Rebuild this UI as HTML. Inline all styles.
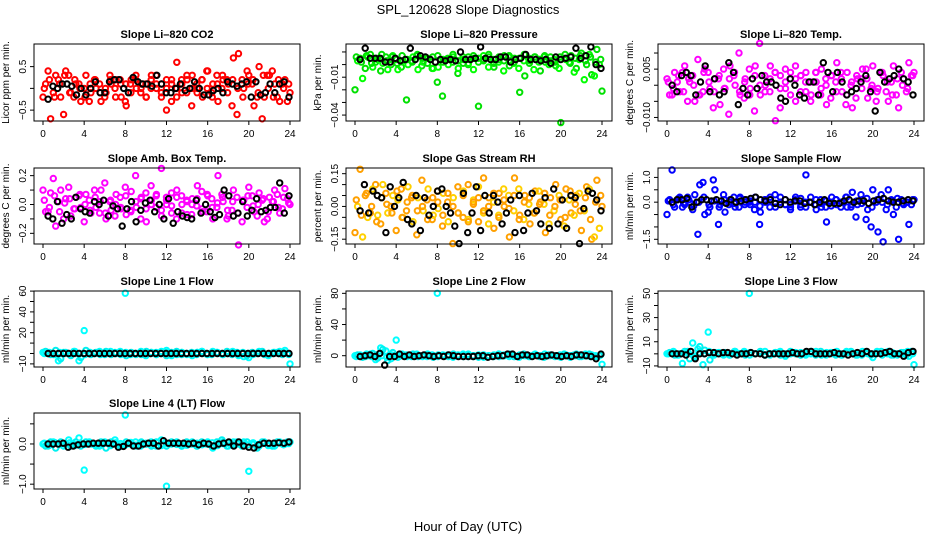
<!DOCTYPE html>
<html><head><meta charset="utf-8"><style>
html,body{margin:0;padding:0;background:#fff}
svg{display:block;font-family:"Liberation Sans",Arial,sans-serif}
</style></head><body>
<svg id="chart" width="936" height="540" viewBox="0 0 936 540" xmlns="http://www.w3.org/2000/svg">
<rect width="936" height="540" fill="#fff"/>
<text x="468" y="14" text-anchor="middle" font-size="13">SPL_120628  Slope Diagnostics</text>
<text x="468" y="531" text-anchor="middle" font-size="13">Hour of Day (UTC)</text>
</svg>
<script>
const xTicks=[0,4,8,12,16,20,24];
const co2A=[-0.2,0.4,-0.1,0.2,-0.6,0.3,-0.2,0.1,0.0,-0.3,0.2,0.1,-0.2,0.3,0.0,0.2,-0.3,0.1,0.2,-0.1,0.1,0.0,0.3,-0.2,-0.5,0.1,0.6,-0.1,0.2,0.3,0.0,-0.2,0.4,0.1,-0.3,0.2,0.1,0.7,0.8,0.0,0.3,-0.4,0.5,-0.2,0.3,0.1,-0.3,0.2,-0.1];
const co2B=[0.1,-0.7,0.3,-0.2,0.4,-0.1,0.1,-0.3,0.3,-0.1,0.0,-0.3,-0.1,0.1,0.2,-0.2,-0.4,0.2,0.0,0.1,-0.2,0.3,0.0,0.1,0.2,-0.3,0.0,0.2,-0.1,-0.4,0.1,0.2,0.4,-0.1,0.3,0.0,0.2,-0.4,-0.6,0.2,0.4,0.1,-0.2,-0.7,0.3,0.4,-0.2,0.1,-0.3];
const co2C=[0.0,0.2,-0.2,0.1,0.3,-0.1,0.2,0.0,-0.2,0.1,0.2,-0.1,0.0,0.2,-0.2,0.1,0.1,-0.1,0.3,0.0,-0.2,0.2,0.1,-0.1,0.0,0.2,-0.2,0.1,0.3,0.0,-0.1,0.2,0.0,-0.2,0.1,0.3,-0.1,0.2,0.0,-0.2,0.1,0.2,-0.1,0.3,0.0,-0.2,0.2,0.0,0.1];
const co2K=[-0.25,0.05,0.0,0.1,0.1,0.05,-0.15,0.0,-0.15,0.0,0.15,-0.1,-0.1,0.15,0.2,0.2,0.0,-0.1,0.25,0.15,0.1,0.1,0.05,0.3,0.1,-0.1,-0.1,0.0,0.1,-0.05,0.0,0.15,0.0,-0.15,-0.15,-0.05,0.0,-0.1,0.15,0.1,0.05,0.1,0.15,-0.2,0.15,-0.15,-0.1,0.1,-0.1,0.1,0.15,-0.2];
const presA=[-0.02,0.005,-0.003,0.008,0.002,-0.005,0.006,0.0,0.004,-0.002,-0.028,0.003,0.007,-0.001,0.005,-0.003,-0.014,-0.025,0.004,0.002,-0.007,0.006,0.0,0.005,-0.033,0.003,0.006,-0.002,0.004,0.007,-0.001,0.005,-0.022,-0.009,0.003,0.006,-0.005,0.002,0.006,-0.001,-0.046,0.004,0.007,-0.003,0.009,0.0,-0.008,0.012,-0.021];
const presB=[0.003,-0.011,0.006,-0.002,0.004,0.001,-0.004,0.007,-0.004,0.003,0.0,0.006,-0.004,0.002,0.005,-0.003,-0.002,0.004,0.0,0.006,-0.003,0.004,0.001,-0.004,0.005,0.007,-0.002,0.004,0.002,-0.005,0.006,0.001,-0.003,0.003,0.005,-0.004,0.002,0.006,0.0,0.004,-0.003,0.005,0.002,-0.006,0.004,-0.012,0.008,-0.009,0.0];
const presC=[0.006,0.002,0.007,0.001,0.005,0.008,0.003,0.006,0.001,0.007,0.004,0.002,0.008,0.005,0.001,0.006,0.007,0.002,0.005,0.008,0.003,0.001,0.006,0.007,0.002,0.004,0.008,0.001,0.006,0.003,0.007,0.002,0.005,0.008,0.001,0.006,0.004,0.007,0.003,0.002,0.006,0.008,0.001,0.005,0.007,0.003,0.006,0.002,0.004];
const presK=[0.004,0.013,0.005,0.005,0.005,0.002,0.002,0.005,0.003,0.004,0.013,0.004,0.007,0.006,0.004,0.002,0.004,0.003,0.004,0.003,0.010,0.004,0.004,0.005,0.014,0.005,0.004,0.004,0.006,0.006,0.002,0.004,0.005,0.008,0.004,0.004,0.003,0.004,0.001,0.006,0.004,0.005,0.006,0.013,0.005,0.007,0.014,0.0,-0.003];
const tempA=[0.002,-0.003,0.001,0.004,-0.005,0.003,0.008,-0.002,0.004,-0.007,0.002,0.005,-0.009,0.003,0.010,-0.004,0.005,-0.008,0.013,0.003,-0.002,0.004,-0.007,0.005,0.002,-0.005,0.003,0.004,-0.003,0.001,0.005,-0.006,0.003,0.007,-0.002,0.004,-0.007,0.002,0.005,-0.004,0.006,-0.001,0.003,-0.005,0.006,-0.007,0.002,0.007,0.004];
const tempB=[-0.003,0.004,-0.002,0.006,0.001,-0.005,-0.003,0.005,-0.001,0.002,-0.006,-0.001,0.006,0.000,-0.003,0.002,-0.001,0.006,-0.003,0.000,0.006,-0.011,0.003,-0.001,0.004,0.006,-0.002,0.001,-0.005,0.004,-0.003,0.002,-0.004,0.001,0.004,-0.006,0.000,-0.004,0.002,0.005,-0.001,-0.005,0.004,-0.002,0.001,-0.003,0.004,-0.002,0.003];
const tempC=[0.001,-0.001,0.003,-0.002,0.002,0.000,-0.003,0.004,0.001,-0.002,0.003,-0.001,0.002,0.004,-0.002,0.001,-0.003,0.003,0.000,-0.002,0.002,0.004,-0.001,0.001,-0.003,0.002,0.003,-0.002,0.001,0.004,-0.001,0.000,0.003,-0.002,0.002,-0.003,0.001,0.003,-0.001,0.002,0.000,-0.002,0.004,0.001,-0.003,0.002,0.000,-0.001,0.003];
const tempK=[0.000,-0.002,0.003,0.004,0.003,-0.003,0.001,0.006,-0.002,0.002,-0.003,-0.002,0.007,0.004,-0.006,-0.001,-0.003,0.002,-0.001,0.003,0.001,0.001,0.000,-0.004,-0.005,0.002,0.000,-0.003,-0.004,0.001,0.001,-0.003,0.007,0.004,-0.002,0.004,0.001,-0.003,-0.002,-0.001,0.001,0.003,-0.002,-0.008,0.004,0.001,0.002,0.003,0.005,0.002,0.001,-0.003];
const ambA=[0.1,-0.05,0.18,0.02,-0.1,0.12,-0.03,0.06,-0.12,0.03,0.1,-0.06,0.15,0.02,-0.08,0.05,0.12,-0.04,0.2,-0.1,0.08,0.13,-0.02,0.25,0.05,-0.06,0.1,0.0,-0.07,0.04,0.13,-0.05,0.06,-0.1,0.2,0.02,-0.08,0.1,-0.28,0.03,0.12,-0.05,0.08,-0.12,0.05,0.1,-0.06,0.11,0.0];
const ambB=[-0.05,0.08,-0.15,0.1,0.04,-0.08,0.05,-0.02,0.07,-0.06,-0.02,0.1,-0.1,-0.04,0.07,-0.03,-0.07,0.09,-0.02,0.05,-0.12,0.03,0.07,-0.08,0.0,0.08,-0.1,0.06,0.03,-0.07,-0.01,0.09,-0.05,0.04,-0.02,0.07,-0.1,-0.04,0.05,-0.12,-0.02,0.06,-0.08,0.03,-0.1,0.02,0.07,-0.03,0.04];
const ambC=[0.03,-0.02,0.06,-0.05,0.01,0.04,-0.03,0.07,0.0,-0.04,0.05,0.02,-0.06,0.03,0.0,-0.02,0.06,-0.05,0.02,0.04,-0.03,0.0,0.06,-0.04,0.03,-0.01,0.05,-0.06,0.02,0.0,0.04,-0.03,0.07,-0.02,0.01,0.05,-0.04,0.02,-0.06,0.03,0.06,-0.01,0.0,0.04,-0.05,0.02,-0.02,0.05,0.01];
const ambK=[-0.08,-0.1,0.02,-0.13,-0.07,-0.1,0.05,-0.03,-0.05,-0.06,0.02,0.0,0.03,-0.08,-0.01,-0.03,-0.15,-0.03,0.02,-0.12,-0.04,0.01,0.03,-0.05,0.0,-0.1,0.04,-0.13,-0.05,-0.08,-0.09,-0.1,0.03,-0.06,0.0,-0.05,-0.09,-0.07,0.1,0.06,-0.08,-0.06,0.02,-0.08,-0.04,0.04,-0.05,-0.04,-0.02,-0.02,0.15,-0.06,0.06];
const rhA=[-0.12,0.17,0.05,-0.03,0.1,-0.08,0.06,0.0,-0.11,0.08,-0.02,0.04,-0.13,0.12,0.03,-0.06,0.07,-0.09,0.02,-0.17,0.09,-0.05,0.1,0.01,-0.07,0.13,0.04,-0.1,0.06,0.0,-0.14,0.13,-0.04,0.05,-0.08,0.07,0.02,-0.12,0.04,0.1,-0.06,0.08,-0.03,0.05,-0.11,0.09,-0.15,0.12,0.0];
const rhB=[0.0,-0.14,-0.05,0.08,-0.04,0.1,-0.03,0.05,0.03,-0.05,0.09,-0.07,0.04,-0.02,0.08,-0.04,-0.01,0.06,-0.07,0.04,-0.03,0.07,-0.06,0.03,0.09,-0.03,-0.08,0.02,-0.04,0.08,0.05,-0.02,0.08,-0.06,0.01,-0.03,0.07,0.01,-0.08,-0.02,0.05,-0.09,0.03,-0.04,0.06,-0.02,0.08,-0.14,-0.1];
const rhC=[0.03,-0.04,0.06,0.0,-0.07,0.04,0.01,-0.03,0.07,-0.05,0.02,0.05,-0.02,0.0,-0.06,0.04,0.02,-0.04,0.06,0.0,-0.03,0.05,-0.07,0.02,0.04,-0.02,0.0,0.06,-0.05,0.03,-0.01,0.05,-0.06,0.02,0.04,-0.03,0.01,0.06,-0.04,0.0,0.03,-0.05,0.07,0.01,-0.02,0.04,-0.06,0.02,0.05];
const rhK=[-0.02,0.1,-0.03,0.07,0.05,0.04,-0.12,0.09,0.0,0.04,0.11,-0.06,-0.08,0.05,-0.11,0.04,-0.04,0.0,0.07,0.08,0.0,-0.03,-0.09,-0.17,0.06,-0.12,-0.03,0.09,-0.11,0.05,-0.03,0.05,0.02,-0.08,-0.03,0.03,-0.12,0.05,-0.11,-0.03,0.06,-0.02,-0.08,0.04,-0.1,0.08,-0.08,0.03,-0.1,0.05,0.04,-0.17,-0.01,0.07,0.06,0.03,-0.02];
const flowA=[-0.5,1.3,0.1,-0.2,0.2,-0.3,-1.3,0.8,-0.4,0.9,-0.9,0.3,-0.1,0.2,-0.2,0.1,0.0,-0.3,-0.9,0.1,-0.2,0.3,0.0,-0.1,-0.2,0.2,-0.1,1.1,0.0,-0.3,-0.2,-0.8,0.2,-0.1,0.0,-0.2,0.4,-0.1,0.1,-0.3,0.5,-1.2,-1.6,0.5,-0.5,-1.5,-0.1,-0.9,0.1];
const flowB=[0.1,-0.2,0.2,-0.1,0.0,0.3,0.7,-0.5,-0.2,0.5,-0.1,-0.4,0.1,-0.2,0.2,0.0,-0.1,0.2,-0.4,0.0,0.1,-0.2,0.2,-0.1,-0.3,0.1,-0.2,0.0,0.2,-0.1,0.1,-0.2,0.0,0.1,-0.2,0.2,-0.2,-0.6,0.3,-0.7,-1.0,0.0,0.3,-0.3,0.1,-0.2,0.1,0.0,-0.1];
const flowC=[0.05,-0.1,0.15,-0.05,0.1,-0.15,0.0,0.2,-0.1,0.05,-0.2,0.1,0.0,-0.05,0.15,-0.1,0.05,0.0,-0.15,0.1,0.2,-0.05,0.0,0.1,-0.1,0.05,0.15,-0.2,0.0,0.1,-0.05,0.05,-0.15,0.1,0.0,0.2,-0.1,0.05,-0.05,0.15,-0.2,0.1,0.0,-0.1,0.05,0.15,-0.05,0.0,0.1];
const flowK=[0.0,0.1,0.1,0.15,-0.2,0.0,0.1,0.1,0.05,0.1,0.05,-0.05,0.1,0.0,0.05,0.1,0.15,0.2,0.1,0.05,0.1,-0.05,-0.1,0.1,0.0,0.05,0.05,-0.05,0.0,-0.1,0.0,0.1,-0.05,-0.05,-0.05,0.05,0.1,0.0,0.05,0.05,-0.05,0.05,0.1,0.15,0.05,0.0,0.0,0.05,0.1,0.05];
const l1A=[1,0,-1,-7,1,0,2,-7,22,1,0,2,-1,0,1,2,58,-1,0,1,-2,0,1,2,3,0,-1,1,0,-2,1,0,-1,2,0,-1,0,1,-2,-3,-4,0,2,-1,0,1,2,3,-10];
const l1B=[2,-1,3,-5,1,-2,0,-4,3,-1,1,0,2,-1,0,1,-2,1,0,-1,2,1,-1,0,-2,1,2,-1,0,1,-1,2,0,-1,1,0,2,-1,1,0,-2,1,0,2,-1,0,1,-1,0];
const l1C=[0,1,-1,1,0,-1,2,0,-1,1,0,-1,1,2,0,-1,1,0,-1,2,0,1,-1,0,1,-2,0,1,-1,0,1,2,-1,0,1,-1,0,2,-1,1,0,-1,1,0,-2,1,0,1,-1];
const l1K=[0,0,0,0,0,0,0,0,0,0,0,0,0,0,0,0,0,0,0,0,0,0,0,0,0,0,0,0,0,0,0,0,0,0,0,0,0,0,0,0,0,0,0,0,0,0,0,0];
const l2A=[0,1,-1,2,-5,10,6,-4,20,0,1,-1,2,0,-1,1,80,0,1,-1,0,2,-1,0,1,-2,0,1,-1,0,2,-1,1,0,-1,2,0,-1,1,0,-2,1,0,2,-1,0,1,-1,-11];
const l2B=[1,-2,0,3,-3,8,-6,4,-2,1,0,2,-1,0,1,-2,1,0,-1,2,0,-1,1,0,-2,1,0,-1,2,0,1,-1,0,2,-1,1,0,-2,1,0,-1,2,0,1,-1,0,2,-1,0];
const l2C=[-1,0,2,-1,1,0,-2,1,0,2,-1,0,1,-1,2,0,-1,1,0,-2,1,0,2,-1,0,1,-1,0,2,1,-1,0,-2,1,0,1,-1,2,0,-1,1,0,-2,0,1,2,-1,0,1];
const l2K=[-1,0,1,-1,3,-12,-1,-1,2,-1,1,-1,0,1,0,-1,0,-1,1,0,-1,-1,-1,-1,0,0,-2,-1,0,0,2,2,-1,1,1,-1,0,-1,0,1,0,-1,0,-1,1,1,0,-1,-4,2];
const l3A=[0,1,-1,-8,2,9,4,-9,18,0,1,-1,0,1,0,2,50,0,1,-1,0,1,2,-1,0,1,-1,0,2,0,-1,1,0,2,-1,1,0,-1,2,0,-3,1,0,2,-1,0,1,-2,-9];
const l3B=[1,-1,0,2,-4,-3,6,3,-5,1,0,1,-1,2,0,-1,1,0,2,-1,0,1,-1,0,2,0,-1,1,0,-1,2,0,1,-1,0,1,2,-1,0,1,-1,0,2,1,-1,0,1,-1,2];
const l3C=[0,2,-1,1,0,-2,1,0,2,-1,1,0,-1,2,0,1,-1,0,1,2,-1,0,1,-2,0,1,1,-1,0,2,0,-1,1,0,-1,2,1,0,-1,1,0,2,-1,0,1,-1,0,2,0];
const l3K=[0,0,0,-1,2,-4,0,0,1,1,0,1,1,0,-1,0,0,1,0,0,-1,0,0,0,0,0,1,0,0,2,2,0,0,0,0,1,0,0,-1,0,1,0,2,0,0,0,1,2,0,0,-2,1,2];
const l4A=[0,-0.05,0.05,0,-0.05,0.1,0,0.15,-0.65,0.05,0,-0.05,0.05,0,0.1,-0.05,0.72,0,0.05,-0.05,0,0.05,-0.05,0.1,-1.05,0,0.05,-0.05,0,0.05,-0.05,0,0.05,-0.1,0,0.05,-0.05,0.05,0,0.05,-0.68,0,-0.05,0.05,0,-0.05,0.05,0,0.05];
const l4B=[-0.05,0.05,-0.1,0.05,0,-0.05,0.05,-0.05,0.05,0,-0.05,0.05,-0.1,0.05,0,-0.05,0.05,0,-0.05,0.05,0,-0.05,0.05,0,-0.05,0.05,0,-0.05,0.05,0,-0.05,0.05,0,-0.05,0.05,0.1,-0.05,0,0.05,-0.05,0.05,0,-0.1,0.05,0,-0.05,0.05,0,0.05];
const l4C=[0.02,-0.03,0.04,-0.02,0.0,0.03,-0.04,0.02,-0.01,0.04,-0.03,0.0,0.02,-0.04,0.03,0.01,-0.02,0.04,-0.03,0.0,0.02,-0.02,0.04,-0.04,0.01,0.03,-0.01,0.0,-0.03,0.04,0.02,-0.02,0.0,0.03,-0.04,0.01,0.02,-0.03,0.04,0.0,-0.02,0.03,-0.01,0.02,-0.04,0.0,0.03,-0.02,0.01];
const l4K=[0,0,0,0.02,-0.08,-0.05,-0.02,0,0,0.02,0.02,0.02,0.02,0,-0.08,-0.06,0.02,-0.05,-0.05,0,0.02,0.02,-0.05,0.08,0.02,0.02,0.02,0.02,0,0.02,-0.02,0.02,0,-0.05,0,0.02,0.05,-0.05,0.05,-0.05,-0.08,-0.1,-0.02,0.02,0.02,0.02,0.03,0.02,0.05];

const NS='http://www.w3.org/2000/svg';
const svg=document.getElementById('chart');
const cols=[34,346,658], rows=[[44,121],[168,244],[291,367],[413,489]], W=266;
const panels=[
 {key:'co2',title:'Slope Li\u2013820 CO2',yl:'Licor ppm per min.',c:0,r:0,lo:-0.75,hi:1.02,ticks:[0.5,0,-0.5],labels:['0.5','','\u22120.5'],fs:10,col:'#ff0000',col2:'#ff0000',A:co2A,B:co2B,C:co2C,K:co2K},
 {key:'pressure',title:'Slope Li\u2013820 Pressure',yl:'kPa per min.',c:1,r:0,lo:-0.0447,hi:0.0163,ticks:[0.01,0,-0.01,-0.02,-0.03,-0.04],labels:['','','\u22120.01','','','\u22120.04'],fs:10,col:'#00e000',col2:'#00ff00',A:presA,B:presB,C:presC,K:presK},
 {key:'temp',title:'Slope Li\u2013820 Temp.',yl:'degrees C per min.',c:2,r:0,lo:-0.0111,hi:0.0128,ticks:[0.01,0.005,0,-0.005,-0.01],labels:['','0.005','','','\u22120.010'],fs:10,col:'#ff00ff',col2:'#ff00ff',A:tempA,B:tempB,C:tempC,K:tempK},
 {key:'amb-box-temp',title:'Slope Amb. Box Temp.',yl:'degrees C per min.',c:0,r:1,lo:-0.274,hi:0.253,ticks:[0.2,0.1,0,-0.1,-0.2],labels:['0.2','','0.0','','\u22120.2'],fs:10,col:'#ff00ff',col2:'#ff00ff',A:ambA,B:ambB,C:ambC,K:ambK},
 {key:'gas-stream-rh',title:'Slope Gas Stream RH',yl:'percent per min.',c:1,r:1,lo:-0.172,hi:0.176,ticks:[0.15,0.1,0.05,0,-0.05,-0.1,-0.15],labels:['0.15','','','0.00','','','\u22120.15'],fs:10,col:'#ffa000',col2:'#ffd000',A:rhA,B:rhB,C:rhC,K:rhK},
 {key:'sample-flow',title:'Slope Sample Flow',yl:'ml/min per min.',c:2,r:1,lo:-1.69,hi:1.38,ticks:[1,0.5,0,-0.5,-1,-1.5],labels:['1.0','','0.0','','','\u22121.5'],fs:10,col:'#0000ff',col2:'#0000ff',A:flowA,B:flowB,C:flowC,K:flowK},
 {key:'line1-flow',title:'Slope Line 1 Flow',yl:'ml/min per min.',c:0,r:2,lo:-13,hi:60.1,ticks:[60,50,40,30,20,10,0,-10],labels:['60','','40','','20','','','\u221210'],fs:10,col:'#00ffff',col2:'#00f0f0',A:l1A,B:l1B,C:l1C,K:l1K},
 {key:'line2-flow',title:'Slope Line 2 Flow',yl:'ml/min per min.',c:1,r:2,lo:-14.5,hi:83,ticks:[80,60,40,20,0],labels:['80','','40','','0'],fs:10,col:'#00ffff',col2:'#00f0f0',A:l2A,B:l2B,C:l2C,K:l2K},
 {key:'line3-flow',title:'Slope Line 3 Flow',yl:'ml/min per min.',c:2,r:2,lo:-10.9,hi:52,ticks:[50,40,30,20,10,0,-10],labels:['50','','30','','10','','\u221210'],fs:10,col:'#00ffff',col2:'#00f0f0',A:l3A,B:l3B,C:l3C,K:l3K},
 {key:'line4-flow',title:'Slope Line 4 (LT) Flow',yl:'ml/min per min.',c:0,r:3,lo:-1.12,hi:0.77,ticks:[0.5,0,-0.5,-1],labels:['','0.0','','\u22121.0'],fs:10,col:'#00ffff',col2:'#00f0f0',A:l4A,B:l4B,C:l4C,K:l4K}
];
function mk(tag,attrs,parent){const e=document.createElementNS(NS,tag);for(const k in attrs)e.setAttribute(k,attrs[k]);(parent||svg).appendChild(e);return e;}
panels.forEach(p=>{
 const L=cols[p.c],T=rows[p.r][0],B=rows[p.r][1];
 const xs=h=>L+9+h*(247/24);
 const ys=v=>B-(v-p.lo)/(p.hi-p.lo)*(B-T);
 const g=mk('g',{});
 
 
 const t=mk('text',{x:L+W/2,y:T-6,'text-anchor':'middle','font-size':'11','font-weight':'bold'},g);t.textContent=p.title;
 
 
 const yl=mk('text',{x:0,y:0,'text-anchor':'middle','font-size':'10',transform:`translate(${L-25},${(T+B)/2}) rotate(-90)`},g);yl.textContent=p.yl;
 
 
 const pts=mk('g',{fill:'none','stroke-width':'2'},g);
 
 
 const drawSeries=(arr,x0,x1,color,nm)=>{arr.forEach((v,i)=>{const h=x0+i*(x1-x0)/(arr.length-1);
  const c=mk('circle',{cx:xs(h).toFixed(1),cy:ys(v).toFixed(1),r:'2.7',stroke:color},pts);
  
  });};
 drawSeries(p.A,0,24,p.col,'point-a');
 drawSeries(p.B,0.25,23.75,p.col2,'point-b');
 drawSeries(p.C,0.125,23.875,p.col,'point-c');
 drawSeries(p.K,0.5,23.9,'#000','point-hourly-mean');
 const bx=mk('rect',{x:L,y:T,width:W,height:B-T,fill:'none',stroke:'#000','stroke-width':'1'},g);
 
 
 const xa=mk('g',{},g);
 
 
 mk('line',{x1:xs(0),x2:xs(24),y1:B,y2:B,stroke:'#000'},xa);
 xTicks.forEach(h=>{mk('line',{x1:xs(h),x2:xs(h),y1:B,y2:B+4,stroke:'#000'},xa);
  const tx=mk('text',{x:xs(h),y:B+16,'text-anchor':'middle','font-size':'10'},xa);tx.textContent=h;
  
  });
 const ya=mk('g',{},g);
 
 
 p.ticks.forEach((v,i)=>{const y=ys(v);mk('line',{x1:L,x2:L-4,y1:y,y2:y,stroke:'#000'},ya);
  if(p.labels[i]){const tl=mk('text',{x:0,y:0,'text-anchor':'middle','font-size':p.fs,transform:`translate(${L-8},${y}) rotate(-90)`},ya);tl.textContent=p.labels[i];
  
  }});
});
</script>
</body></html>
